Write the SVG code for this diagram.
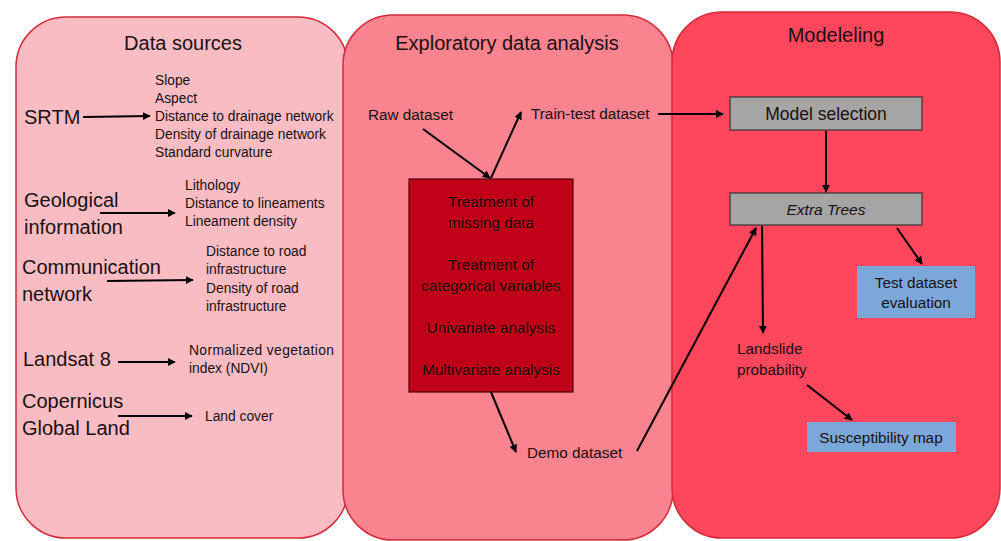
<svg xmlns="http://www.w3.org/2000/svg" width="1001" height="541" viewBox="0 0 1001 541">
<style>
text{font-family:"Liberation Sans",Arial,sans-serif;fill:#1a1010}
.h{font-size:20px}
.src{font-size:20px}
.s{font-size:13.8px}
.m{font-size:15.3px}
.c{text-anchor:middle}
.ln{stroke:#000;stroke-width:2;fill:none;marker-end:url(#ah)}
.gray{fill:#a5a5a5;stroke:#333;stroke-width:1.2}
.blue{fill:#7ba7d9}
</style>
<defs>
<marker id="ah" viewBox="0 0 10 10" refX="9" refY="5" markerWidth="4" markerHeight="4" orient="auto" markerUnits="strokeWidth">
<path d="M0,0 L10,5 L0,10 z" fill="#000"/>
</marker>
</defs>
<g id="panel-sources">
<rect x="16" y="17" width="332" height="521" rx="50" fill="#f9bcc3" stroke="#d42a3a" stroke-width="1.5"/>
<text class="h c" x="183" y="50">Data sources</text>
</g>
<g id="panel-eda">
<rect x="343" y="15" width="330" height="525" rx="50" fill="#f9838f" stroke="#d42a3a" stroke-width="1.5"/>
<text class="h c" x="507" y="50">Exploratory data analysis</text>
</g>
<g id="panel-model">
<rect x="672" y="12" width="328" height="526" rx="50" fill="#fe475c" stroke="#d42a3a" stroke-width="1.5"/>
<text class="h c" x="836" y="42">Modeleling</text>
</g>
<g id="srtm">
<text class="src" x="24" y="124">SRTM</text>
<text class="s" x="155" y="85">Slope</text>
<text class="s" x="155" y="103">Aspect</text>
<text class="s" x="155" y="121">Distance to drainage network</text>
<text class="s" x="155" y="139">Density of drainage network</text>
<text class="s" x="155" y="157">Standard curvature</text>
</g>
<g id="geo">
<text class="src" x="24" y="207">Geological</text>
<text class="src" x="24" y="234">information</text>
<text class="s" x="185" y="190">Lithology</text>
<text class="s" x="185" y="208">Distance to lineaments</text>
<text class="s" x="185" y="226">Lineament density</text>
</g>
<g id="comm">
<text class="src" x="22" y="274">Communication</text>
<text class="src" x="22" y="301">network</text>
<text class="s" x="206" y="256">Distance to road</text>
<text class="s" x="206" y="274">infrastructure</text>
<text class="s" x="206" y="293">Density of road</text>
<text class="s" x="206" y="311">infrastructure</text>
</g>
<g id="landsat">
<text class="src" x="23" y="366">Landsat 8</text>
<text class="s" x="189" y="355" textLength="145" lengthAdjust="spacing">Normalized   vegetation</text>
<text class="s" x="189" y="373">index (NDVI)</text>
</g>
<g id="copernicus">
<text class="src" x="22" y="408">Copernicus</text>
<text class="src" x="22" y="435">Global Land</text>
<text class="s" x="205" y="421">Land cover</text>
</g>
<g id="raw">
<text class="m" x="368" y="120">Raw dataset</text>
</g>
<g id="traintest">
<text class="m" x="531" y="119">Train-test dataset</text>
</g>
<g id="eda-box">
<rect x="409" y="179" width="164" height="213" fill="#c00018" stroke="#4a0008" stroke-width="1.2"/>
<text class="m c" x="491" y="207">Treatment of</text>
<text class="m c" x="491" y="228">missing data</text>
<text class="m c" x="491" y="270">Treatment of</text>
<text class="m c" x="491" y="291">categorical variables</text>
<text class="m c" x="491" y="333">Univariate analysis</text>
<text class="m c" x="491" y="375">Multivariate analysis</text>
</g>
<g id="demo">
<text class="m" x="527" y="458">Demo dataset</text>
</g>
<g id="model-selection">
<rect class="gray" x="730" y="97" width="192" height="33"/>
<text class="m c" x="826" y="120" style="font-size:17.5px">Model selection</text>
</g>
<g id="extra-trees">
<rect class="gray" x="730" y="193" width="192" height="32"/>
<text class="m c" x="826" y="215" style="font-size:15.5px;font-style:italic">Extra Trees</text>
</g>
<g id="test-eval">
<rect class="blue" x="857" y="266" width="118" height="52"/>
<text class="m c" x="916" y="288">Test dataset</text>
<text class="m c" x="916" y="308">evaluation</text>
</g>
<g id="landslide">
<text class="m" x="737" y="354">Landslide</text>
<text class="m" x="737" y="375">probability</text>
</g>
<g id="susceptibility">
<rect class="blue" x="807" y="422" width="149" height="30"/>
<text class="m c" x="881" y="443">Susceptibility map</text>
</g>
<g id="connectors">
<path class="ln" d="M83,117 L150,116"/>
<path class="ln" d="M100,213 L175,213"/>
<path class="ln" d="M107,281 L193,280"/>
<path class="ln" d="M118,362 L175,362"/>
<path class="ln" d="M118,416 L192,416"/>
<path class="ln" d="M423,129 L490,178"/>
<path class="ln" d="M491,178 L521,112"/>
<path class="ln" d="M658,114 L723,114"/>
<path class="ln" d="M491,392 L516,452"/>
<path class="ln" d="M637,451 L756,228"/>
<path class="ln" d="M826,131 L826,192"/>
<path class="ln" d="M762,226 L763,333"/>
<path class="ln" d="M897,228 L922,264"/>
<path class="ln" d="M807,385 L852,420"/>
</g>
</svg>
